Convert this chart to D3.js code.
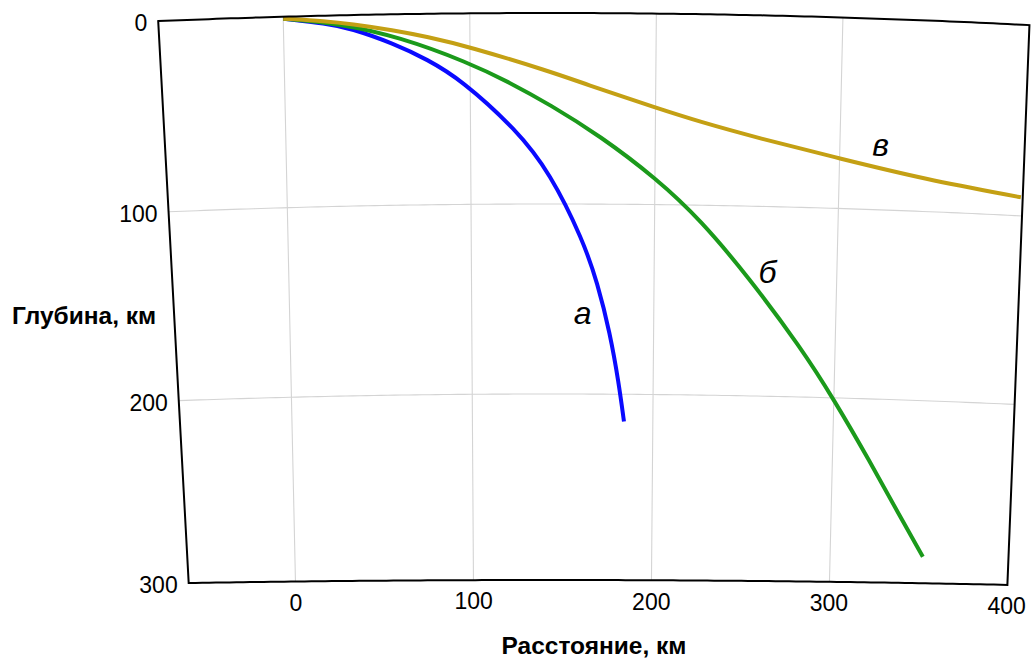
<!DOCTYPE html>
<html><head><meta charset="utf-8">
<script src="https://cdn.jsdelivr.net/npm/d3@7"></script>
<style>
body{margin:0;background:#fff;}
svg text{font-family:"Liberation Sans", Arial, Helvetica, sans-serif;fill:#000;}
</style></head><body>
<svg id="chart" width="1033" height="663"></svg>
<script>
// ---- data (distance along surface, km ; depth, km) ----
const distanceTicks = [0, 100, 200, 300, 400];
const depthTicks = [0, 100, 200, 300];
const gridDistances = [0, 100, 200, 300];
const gridDepths = [100, 200];

const distA = [0, 23, 36, 59, 77, 95, 125, 143, 161, 169, 176, 181, 184];
const depthA = [1, 4.1, 6.9, 15.3, 23.9, 34.6, 61.2, 83.8, 118.9, 141.5, 167.8, 194.1, 214.7];

const distB = [0, 30, 62, 99, 121, 143, 170, 201, 225, 252, 281, 300, 321, 338, 352];
const depthB = [1, 4.3, 11.9, 25.7, 36.2, 48, 64.2, 86.5, 107.7, 137.8, 173.8, 200.8, 234.3, 262.8, 285.5];

const distC = [0, 23, 36, 59, 77, 99, 143, 161, 201, 224, 255, 301, 346, 399];
const depthC = [1, 2.9, 4.6, 8.3, 12, 17.3, 30.6, 36.8, 49.6, 56.3, 64.1, 74, 83, 90.3];

const seriesNames = ["а", "б", "в"];
const labelDist = [161, 262, 322];
const labelDepth = [158, 135, 67];
const seriesColors = ["#0a0aff", "#1b9a1b", "#c4a014"];

const depthTitle = "Глубина, км";
const distTitle = "Расстояние, км";

// ---- geometry (curved Earth section, slightly distorted like the source) ----
const R0 = 12326;              // radius of the surface, px
const cx = 550, cy = 13 + R0;
const distMin = [-67, -60];    // left border at top / bottom
const distMax = 400, depthMax = 300;

const rScale = d3.scaleLinear().domain([0, 100, 200, 300]).range([R0, R0 - 191, R0 - 381, R0 - 567]);
const aScale = d3.scaleLinear().domain([143, 143 + 6605.6]).range([0, 1]);
const sagScale = d3.scaleLinear().domain([0, 100, 200, 300]).range([1.3, 1.3, 1.15, 0.55]);

function P(d, h) {
  const r = rScale(h), t = aScale(d);
  return [cx + r * Math.sin(t), cy - r + r * (1 - Math.cos(t)) * sagScale(h)];
}
function leftDist(h) { return distMin[0] + (distMin[1] - distMin[0]) * h / depthMax; }

const svg = d3.select("#chart");
const line = d3.line();

function arcPts(h, d0, d1) {
  const pts = [], n = 120;
  for (let i = 0; i <= n; i++) pts.push(P(d0 + (d1 - d0) * i / n, h));
  return pts;
}
function radPts(dFn, h0, h1) {
  const pts = [], n = 30;
  for (let i = 0; i <= n; i++) { const h = h0 + (h1 - h0) * i / n; pts.push(P(dFn(h), h)); }
  return pts;
}

// grid
const grid = svg.append("g").attr("stroke", "#d4d4d4").attr("stroke-width", 1.1).attr("fill", "none");
gridDistances.forEach(d => grid.append("path").attr("d", line(radPts(() => d, 0, depthMax))));
gridDepths.forEach(h => grid.append("path").attr("d", line(arcPts(h, leftDist(h), distMax))));

// curves
const curveLine = d3.line().curve(d3.curveBasis);
const series = [[distA, depthA], [distB, depthB], [distC, depthC]];
series.forEach((s, i) => {
  const pts = s[0].map((d, j) => P(d, s[1][j]));
  svg.append("path").attr("d", curveLine(pts))
    .attr("fill", "none").attr("stroke", seriesColors[i])
    .attr("stroke-width", 4).attr("stroke-linejoin", "round");
});

// frame
const framePts = []
  .concat(arcPts(0, distMin[0], distMax))
  .concat(radPts(() => distMax, 0, depthMax))
  .concat(arcPts(depthMax, distMax, distMin[1]))
  .concat(radPts(leftDist, depthMax, 0));
svg.append("path").attr("d", line(framePts) + "Z")
  .attr("fill", "none").attr("stroke", "#000").attr("stroke-width", 2).attr("stroke-linejoin", "miter");

// depth tick labels
depthTicks.forEach(h => {
  const p = P(leftDist(h), h);
  svg.append("text").attr("x", p[0] - 11).attr("y", p[1]).attr("dy", "0.45em")
    .attr("text-anchor", "end").style("font-size", "23px").text(h);
});

// distance tick labels
distanceTicks.forEach(d => {
  const p = P(d, depthMax), t = aScale(d);
  svg.append("text").attr("x", p[0] - 21 * Math.sin(t)).attr("y", p[1] + 21 * Math.cos(t)).attr("dy", "0.36em")
    .attr("text-anchor", "middle").style("font-size", "23px").text(d);
});

// series labels
seriesNames.forEach((t, i) => {
  const p = P(labelDist[i], labelDepth[i]);
  svg.append("text").attr("x", p[0]).attr("y", p[1]).attr("dy", "0.3em")
    .attr("text-anchor", "middle").style("font-size", "32px").style("font-style", "italic").text(t);
});

// axis titles
svg.append("text").attr("x", 12).attr("y", 315).attr("dy", "0.36em")
  .style("font-size", "24.5px").style("font-weight", "bold").text(depthTitle);
svg.append("text").attr("x", 594).attr("y", 645).attr("dy", "0.36em")
  .attr("text-anchor", "middle").style("font-size", "24.5px").style("font-weight", "bold").text(distTitle);
</script>
</body></html>
